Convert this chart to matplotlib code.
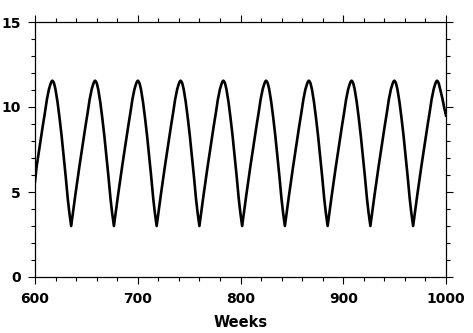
import matplotlib
matplotlib.use("Agg")
import matplotlib.pyplot as plt
from matplotlib.ticker import MultipleLocator

# Weeks (x) and series values (y), cycle by cycle
weeks = [
    600.0, 601.6, 603.6, 605.6, 607.6, 609.6, 611.6, 613.6, 615.1, 616.1, 616.9, 617.7, 618.6,
    619.9, 621.9, 623.9, 625.9, 627.9, 629.9, 631.9, 633.4, 634.5,
    635.2, 636.2, 637.2, 639.2, 641.2, 643.2, 645.2, 647.2, 649.2, 651.2, 653.2, 655.2, 656.7,
    657.7, 658.5, 659.3, 660.2, 661.5, 663.5, 665.5, 667.5, 669.5, 671.5, 673.5, 675.0, 676.1,
    676.8, 677.8, 678.8, 680.8, 682.8, 684.8, 686.8, 688.8, 690.8, 692.8, 694.8, 696.8, 698.3,
    699.3, 700.1, 700.9, 701.8, 703.1, 705.1, 707.1, 709.1, 711.1, 713.1, 715.1, 716.6, 717.7,
    718.4, 719.4, 720.4, 722.4, 724.4, 726.4, 728.4, 730.4, 732.4, 734.4, 736.4, 738.4, 739.9,
    740.9, 741.7, 742.5, 743.4, 744.7, 746.7, 748.7, 750.7, 752.7, 754.7, 756.7, 758.2, 759.3,
    760.0, 761.0, 762.0, 764.0, 766.0, 768.0, 770.0, 772.0, 774.0, 776.0, 778.0, 780.0, 781.5,
    782.5, 783.3, 784.1, 785.0, 786.3, 788.3, 790.3, 792.3, 794.3, 796.3, 798.3, 799.8, 800.9,
    801.6, 802.6, 803.6, 805.6, 807.6, 809.6, 811.6, 813.6, 815.6, 817.6, 819.6, 821.6, 823.1,
    824.1, 824.9, 825.7, 826.6, 827.9, 829.9, 831.9, 833.9, 835.9, 837.9, 839.9, 841.4, 842.5,
    843.2, 844.2, 845.2, 847.2, 849.2, 851.2, 853.2, 855.2, 857.2, 859.2, 861.2, 863.2, 864.7,
    865.7, 866.5, 867.3, 868.2, 869.5, 871.5, 873.5, 875.5, 877.5, 879.5, 881.5, 883.0, 884.1,
    884.8, 885.8, 886.8, 888.8, 890.8, 892.8, 894.8, 896.8, 898.8, 900.8, 902.8, 904.8, 906.3,
    907.3, 908.1, 908.9, 909.8, 911.1, 913.1, 915.1, 917.1, 919.1, 921.1, 923.1, 924.6, 925.7,
    926.4, 927.4, 928.4, 930.4, 932.4, 934.4, 936.4, 938.4, 940.4, 942.4, 944.4, 946.4, 947.9,
    948.9, 949.7, 950.5, 951.4, 952.7, 954.7, 956.7, 958.7, 960.7, 962.7, 964.7, 966.2, 967.3,
    968.0, 969.0, 970.0, 972.0, 974.0, 976.0, 978.0, 980.0, 982.0, 984.0, 986.0, 988.0, 989.5,
    990.5, 991.3, 992.1, 993.0, 994.3, 996.3, 998.3, 1000.0,
]

values = [
    5.6, 6.5, 7.3, 8.1, 8.9, 9.65, 10.45, 11.05, 11.35, 11.5, 11.55, 11.5, 11.38,
    11.05, 10.3, 9.35, 8.3, 7.1, 5.9, 4.6, 3.8, 3.3,
    3.0, 3.45, 3.9, 4.8, 5.65, 6.5, 7.3, 8.1, 8.9, 9.65, 10.45, 11.05, 11.35,
    11.5, 11.55, 11.5, 11.38, 11.05, 10.3, 9.35, 8.3, 7.1, 5.9, 4.6, 3.8, 3.3,
    3.0, 3.45, 3.9, 4.8, 5.65, 6.5, 7.3, 8.1, 8.9, 9.65, 10.45, 11.05, 11.35,
    11.5, 11.55, 11.5, 11.38, 11.05, 10.3, 9.35, 8.3, 7.1, 5.9, 4.6, 3.8, 3.3,
    3.0, 3.45, 3.9, 4.8, 5.65, 6.5, 7.3, 8.1, 8.9, 9.65, 10.45, 11.05, 11.35,
    11.5, 11.55, 11.5, 11.38, 11.05, 10.3, 9.35, 8.3, 7.1, 5.9, 4.6, 3.8, 3.3,
    3.0, 3.45, 3.9, 4.8, 5.65, 6.5, 7.3, 8.1, 8.9, 9.65, 10.45, 11.05, 11.35,
    11.5, 11.55, 11.5, 11.38, 11.05, 10.3, 9.35, 8.3, 7.1, 5.9, 4.6, 3.8, 3.3,
    3.0, 3.45, 3.9, 4.8, 5.65, 6.5, 7.3, 8.1, 8.9, 9.65, 10.45, 11.05, 11.35,
    11.5, 11.55, 11.5, 11.38, 11.05, 10.3, 9.35, 8.3, 7.1, 5.9, 4.6, 3.8, 3.3,
    3.0, 3.45, 3.9, 4.8, 5.65, 6.5, 7.3, 8.1, 8.9, 9.65, 10.45, 11.05, 11.35,
    11.5, 11.55, 11.5, 11.38, 11.05, 10.3, 9.35, 8.3, 7.1, 5.9, 4.6, 3.8, 3.3,
    3.0, 3.45, 3.9, 4.8, 5.65, 6.5, 7.3, 8.1, 8.9, 9.65, 10.45, 11.05, 11.35,
    11.5, 11.55, 11.5, 11.38, 11.05, 10.3, 9.35, 8.3, 7.1, 5.9, 4.6, 3.8, 3.3,
    3.0, 3.45, 3.9, 4.8, 5.65, 6.5, 7.3, 8.1, 8.9, 9.65, 10.45, 11.05, 11.35,
    11.5, 11.55, 11.5, 11.38, 11.05, 10.3, 9.35, 8.3, 7.1, 5.9, 4.6, 3.8, 3.3,
    3.0, 3.45, 3.9, 4.8, 5.65, 6.5, 7.3, 8.1, 8.9, 9.65, 10.45, 11.05, 11.35,
    11.5, 11.55, 11.5, 11.38, 11.05, 10.55, 9.95, 9.5,
]

x_ticks = [600, 700, 800, 900, 1000]
y_ticks = [0, 5, 10, 15]
x_label = "Weeks"

plt.rcParams['font.family'] = ['DejaVu Sans']
plt.rcParams['font.weight'] = 'bold'

fig = plt.figure(figsize=(4.73, 3.33), dpi=100)
ax = fig.add_axes([35 / 473, 56 / 333, 411 / 473, 255 / 333])

ax.plot(weeks, values, color='black', linewidth=1.9, solid_joinstyle='round')

ax.set_xlim(600, 1000)
ax.set_ylim(0, 15)
ax.set_xticks(x_ticks)
ax.set_yticks(y_ticks)
ax.xaxis.set_minor_locator(MultipleLocator(20))
ax.yaxis.set_minor_locator(MultipleLocator(1))
ax.tick_params(which='both', direction='out', top=True, right=True,
               labeltop=False, labelright=False, width=0.8, labelsize=10)
ax.tick_params(which='major', length=5)
ax.tick_params(which='minor', length=3)
ax.tick_params(axis='x', which='major', pad=6)
ax.tick_params(axis='y', which='major', pad=5)
for sp in ax.spines.values():
    sp.set_linewidth(0.9)
ax.set_xlabel(x_label, fontsize=10.5, fontweight='bold', labelpad=6)
for lbl in ax.get_xticklabels() + ax.get_yticklabels():
    lbl.set_fontweight('bold')

fig.savefig("out.png", dpi=100)
